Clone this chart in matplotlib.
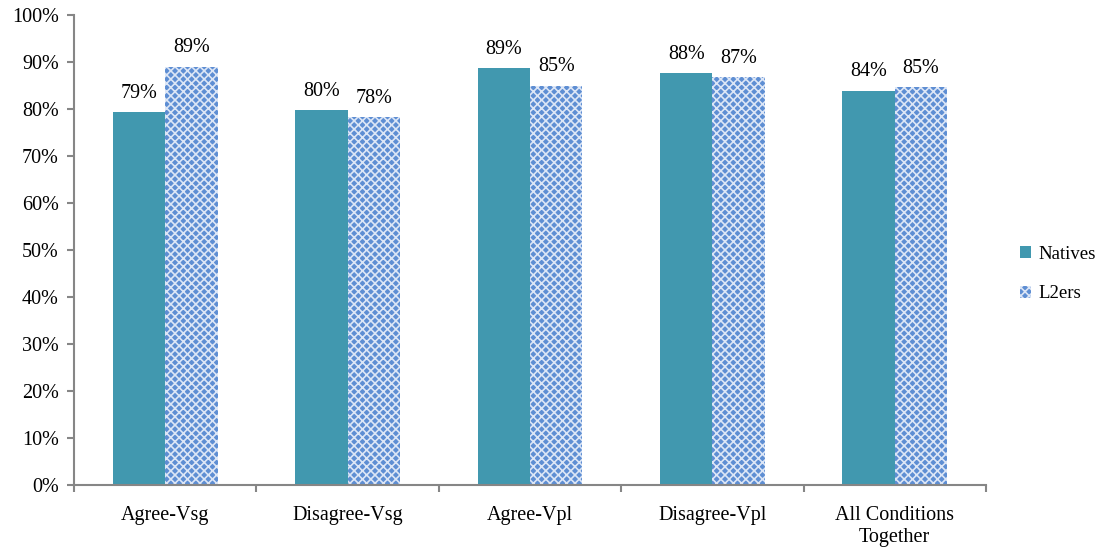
import matplotlib
matplotlib.use("Agg")
import matplotlib.pyplot as plt
import numpy as np

categories = ["Agree-Vsg", "Disagree-Vsg", "Agree-Vpl", "Disagree-Vpl", "All Conditions\nTogether"]
natives = [79.3, 79.8, 88.7, 87.6, 83.9]
l2ers = [89.0, 78.2, 85.0, 86.8, 84.6]
natives_labels = ["79%", "80%", "89%", "88%", "84%"]
l2ers_labels = ["89%", "78%", "85%", "87%", "85%"]
yticks = list(range(0, 101, 10))

plt.rcParams['font.family'] = ['Liberation Serif', 'DejaVu Serif']
plt.rcParams['hatch.linewidth'] = 1.2

FS = 14.5
fig = plt.figure(figsize=(11.1, 5.47), dpi=100)
ax = fig.add_axes([74/1110, 1-485/547, 912/1110, 470/547])

x = np.arange(len(categories)) + 0.5
w = 0.287
b1 = ax.bar(x - w/2, natives, w, color='#4198AF', label='Natives', linewidth=0)
b2 = ax.bar(x + w/2, l2ers, w, color='#5E8ED3', edgecolor='#DCE6F6', hatch='xxxx',
            label='L2ers', linewidth=0)

for xi, v, t in zip(x - w/2, natives, natives_labels):
    ax.text(xi, v + 2.0, t, ha='center', va='bottom', fontsize=FS)
for xi, v, t in zip(x + w/2, l2ers, l2ers_labels):
    ax.text(xi, v + 2.0, t, ha='center', va='bottom', fontsize=FS)

ax.set_xlim(0, 5)
ax.set_ylim(0, 100)
ax.set_yticks(yticks)
ax.set_yticklabels([f"{t}%" for t in yticks], fontsize=FS)
ax.set_xticks(np.arange(0, 6))
ax.set_xticklabels([])
ax.set_xticks(x, minor=True)
ax.set_xticklabels(categories, minor=True, fontsize=FS, linespacing=1.25)
ax.tick_params(axis='x', which='minor', length=0, pad=15)
ax.tick_params(axis='x', which='major', length=5, color='#868686', width=1.5)
ax.tick_params(axis='y', length=5, color='#868686', width=1.5, pad=6)
for s in ['top', 'right']:
    ax.spines[s].set_visible(False)
for s in ['left', 'bottom']:
    ax.spines[s].set_color('#868686')
    ax.spines[s].set_linewidth(1.5)

leg = fig.legend(handles=[b1, b2], loc='center left', bbox_to_anchor=(1003/1110, 1-274/547),
                 frameon=False, fontsize=13.5, handlelength=0.6, handleheight=0.6,
                 handletextpad=0.4, labelspacing=1.2)

fig.savefig("out.png", dpi=100)
